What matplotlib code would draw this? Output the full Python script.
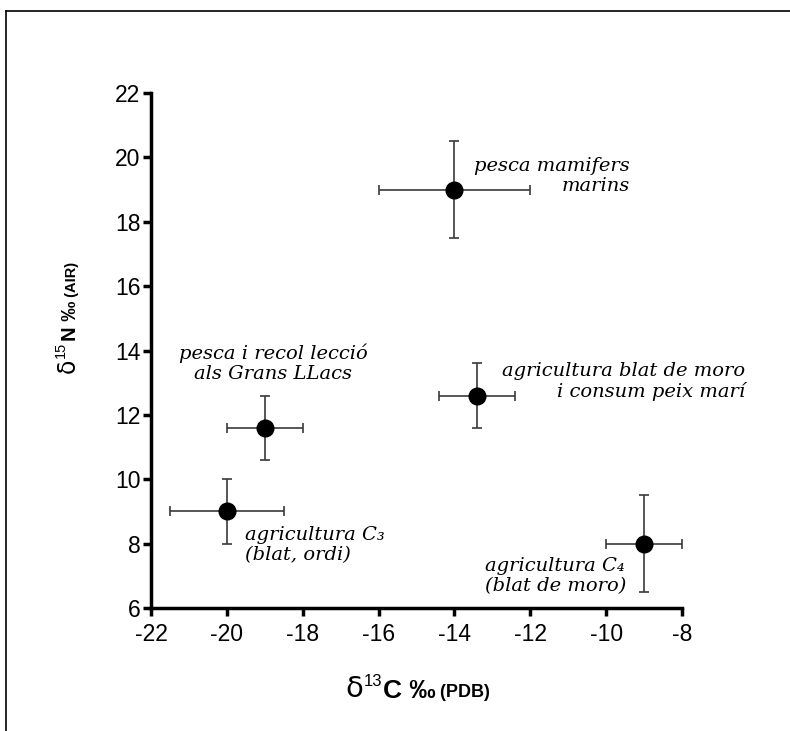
import matplotlib
matplotlib.use('Agg')
import matplotlib.pyplot as plt
from matplotlib.lines import Line2D

# mean values and error ranges
d13c = [-14.0, -13.4, -19.0, -20.0, -9.0]
d15n = [19.0, 12.6, 11.6, 9.0, 8.0]
d13c_err = [2.0, 1.0, 1.0, 1.5, 1.0]
d15n_err = [1.5, 1.0, 1.0, 1.0, 1.5]
groups = ['pesca mamifers\nmarins',
          'agricultura blat de moro\ni consum peix marí',
          'pesca i recol lecció\nals Grans LLacs',
          'agricultura C\u2083\n(blat, ordi)',
          'agricultura C\u2084\n(blat de moro)']

xticks = [-22, -20, -18, -16, -14, -12, -10, -8]
yticks = [6, 8, 10, 12, 14, 16, 18, 20, 22]

plt.rcParams['font.family'] = ['Liberation Sans', 'DejaVu Sans']
plt.rcParams['axes.unicode_minus'] = False

W, H = 790, 731
fig = plt.figure(figsize=(W / 100, H / 100), dpi=100)
ax = fig.add_axes([151 / W, 1 - 608 / H, (682 - 151) / W, (608 - 93) / H])

ax.errorbar(d13c, d15n, xerr=d13c_err, yerr=d15n_err, fmt='o', color='black',
            ms=12, ecolor='#3a3a3a', elinewidth=1.2, capsize=3.5, capthick=1.2,
            zorder=3)

ax.set_xlim(-22, -8)
ax.set_ylim(6, 22)
ax.set_xticks(xticks)
ax.set_yticks(yticks)
for s in ['top', 'right']:
    ax.spines[s].set_visible(False)
for s in ['left', 'bottom']:
    ax.spines[s].set_linewidth(2.5)
ax.tick_params(axis='both', direction='out', length=5.5, width=2.5,
               labelsize=16.5)
ax.tick_params(axis='x', pad=5)
ax.tick_params(axis='y', pad=2)

# annotation placement (ha, text anchor in data units)
ann = [('right', 'right', -9.37, 19.42),
       ('right', 'right', -6.34, 13.04),
       ('center', 'center', -18.78, 13.61),
       ('left', 'left', -19.52, 7.96),
       ('left', 'left', -13.19, 6.98)]
for txt, (ha, ma, tx, ty) in zip(groups, ann):
    ax.text(tx, ty, txt, ha=ha, va='center', multialignment=ma,
            family='DejaVu Serif', style='italic', fontsize=14,
            linespacing=1.15)

# x label: δ13C ‰ (PDB)
t0 = fig.text(345 / W, 1 - 697 / H, '\u03b4', fontsize=21, va='baseline',
              family='DejaVu Sans')
t1 = ax.annotate('13', xy=(1, 0), xycoords=t0, xytext=(0.5, 10),
                 textcoords='offset points', fontsize=12, va='bottom')
t2 = ax.annotate('C \u2030', xy=(1, 0), xycoords=(t1, t0), xytext=(0.5, 0),
                 textcoords='offset points', fontsize=19, weight='bold',
                 va='bottom')
ax.annotate(' (PDB)', xy=(1, 0), xycoords=t2, xytext=(0, 1.5),
            textcoords='offset points', fontsize=13, weight='bold',
            va='bottom')

# y label: δ15N ‰ (AIR)
r0 = fig.text(80 / W, 1 - 373 / H, '\u03b4', fontsize=17, rotation=90,
              ha='right', va='bottom', family='DejaVu Sans')
r1 = ax.annotate('15', xy=(1, 1), xycoords=r0, xytext=(-8.5, 0.5),
                 textcoords='offset points', fontsize=10.5, rotation=90,
                 ha='right', va='bottom')
r2 = ax.annotate('N \u2030', xy=(1, 1), xycoords=(r0, r1), xytext=(0, 0.5),
                 textcoords='offset points', fontsize=14.5, weight='bold',
                 rotation=90, ha='right', va='bottom')
ax.annotate(' (AIR)', xy=(1, 1), xycoords=r2, xytext=(-1, 0),
            textcoords='offset points', fontsize=10.5, weight='bold',
            rotation=90, ha='right', va='bottom')

# partial frame around the figure
fig.add_artist(Line2D([6 / W, 6 / W], [0, 1 - 11 / H], transform=fig.transFigure,
                      color='black', lw=1.2))
fig.add_artist(Line2D([6 / W, 1], [1 - 11 / H, 1 - 11 / H],
                      transform=fig.transFigure, color='black', lw=1.2))

fig.savefig('out.png', dpi=100)
